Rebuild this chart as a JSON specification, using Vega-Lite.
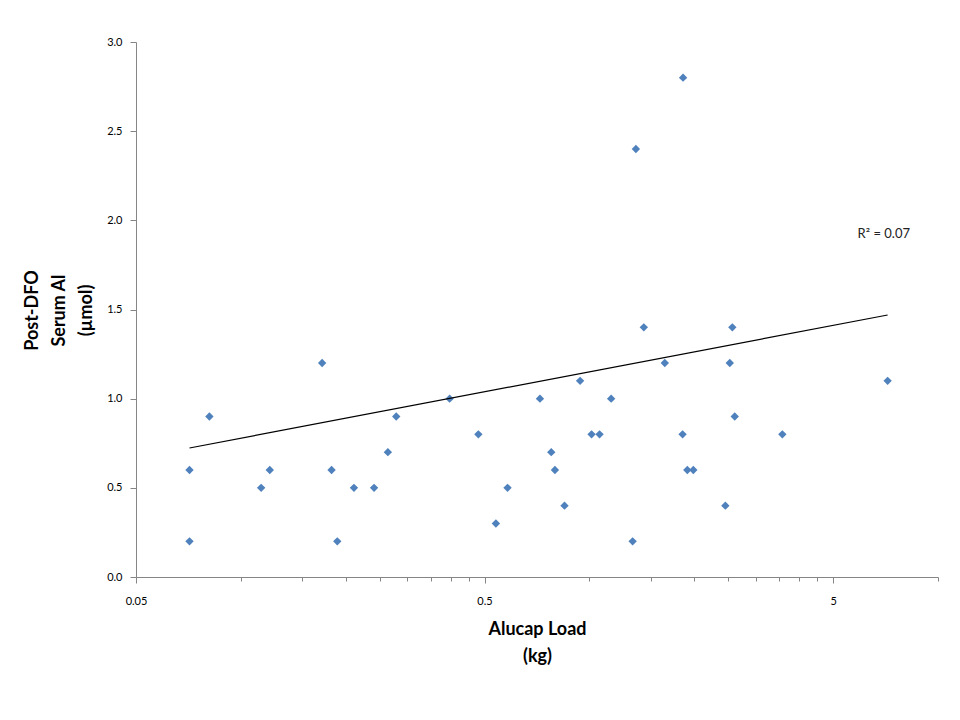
{
  "$schema": "https://vega.github.io/schema/vega-lite/v6.json",
  "width": 802,
  "height": 535,
  "autosize": {"type": "none"},
  "padding": {"left": 136, "top": 42, "right": 22, "bottom": 143},
  "background": "white",
  "config": {
    "view": {"stroke": null},
    "font": "Lato",
    "axis": {"grid": false, "domainColor": "#868686", "tickColor": "#868686", "labelColor": "#000000", "labelFont": "Lato", "labelFontSize": 11, "titleFont": "Lato", "titleFontSize": 18, "titleFontWeight": "bold", "titleColor": "#000000"}
  },
  "datasets": {
    "points": [
      {"load": 0.0712, "al": 0.6},
      {"load": 0.0712, "al": 0.2},
      {"load": 0.0812, "al": 0.9},
      {"load": 0.1143, "al": 0.5},
      {"load": 0.121, "al": 0.6},
      {"load": 0.171, "al": 1.2},
      {"load": 0.182, "al": 0.6},
      {"load": 0.189, "al": 0.2},
      {"load": 0.211, "al": 0.5},
      {"load": 0.241, "al": 0.5},
      {"load": 0.264, "al": 0.7},
      {"load": 0.279, "al": 0.9},
      {"load": 0.397, "al": 1.0},
      {"load": 0.48, "al": 0.8},
      {"load": 0.539, "al": 0.3},
      {"load": 0.582, "al": 0.5},
      {"load": 0.721, "al": 1.0},
      {"load": 0.777, "al": 0.7},
      {"load": 0.796, "al": 0.6},
      {"load": 0.848, "al": 0.4},
      {"load": 0.94, "al": 1.1},
      {"load": 1.014, "al": 0.8},
      {"load": 1.069, "al": 0.8},
      {"load": 1.154, "al": 1.0},
      {"load": 1.33, "al": 0.2},
      {"load": 1.359, "al": 2.4},
      {"load": 1.432, "al": 1.4},
      {"load": 1.645, "al": 1.2},
      {"load": 1.856, "al": 2.8},
      {"load": 1.85, "al": 0.8},
      {"load": 1.909, "al": 0.6},
      {"load": 1.986, "al": 0.6},
      {"load": 2.454, "al": 0.4},
      {"load": 2.527, "al": 1.2},
      {"load": 2.57, "al": 1.4},
      {"load": 2.611, "al": 0.9},
      {"load": 3.576, "al": 0.8},
      {"load": 7.17, "al": 1.1}
    ],
    "trend": [
      {"load": 0.0712, "al": 0.7235},
      {"load": 7.17, "al": 1.469}
    ],
    "note": [
      {"load": 6.99, "al": 1.925, "label": "R² = 0.07"}
    ]
  },
  "layer": [
    {
      "data": {"name": "points"},
      "mark": {"type": "point", "shape": "diamond", "filled": true, "size": 70, "color": "#4F81BD", "opacity": 1},
      "encoding": {
        "x": {
          "field": "load", "type": "quantitative",
          "scale": {"type": "log", "domain": [0.05, 10], "nice": false},
          "axis": {
            "title": ["Alucap Load", "(kg)"],
            "titleLineHeight": 27,
            "titleBaseline": "top",
            "titleY": 43,
            "values": [0.05, 0.1, 0.15, 0.2, 0.25, 0.3, 0.35, 0.4, 0.45, 0.5, 1, 1.5, 2, 2.5, 3, 3.5, 4, 4.5, 5, 10],
            "format": "~g",
            "labelExpr": "indexof([0.05, 0.5, 5], datum.value) >= 0 ? datum.label : ''",
            "labelOverlap": false,
            "labelBound": false,
            "labelFlush": false,
            "labelPadding": 12,
            "tickSize": {"condition": {"test": "indexof([0.05, 0.5, 5], datum.value) >= 0", "value": 6}, "value": 4}
          }
        },
        "y": {
          "field": "al", "type": "quantitative",
          "scale": {"domain": [0, 3], "nice": false, "zero": true},
          "axis": {
            "title": ["Post-DFO", "Serum Al", "(µmol)"],
            "titleLineHeight": 27,
            "titleBaseline": "top",
            "titleX": -113,
            "titleY": 268,
            "titleAngle": -90,
            "titleAlign": "center",
            "values": [0, 0.5, 1, 1.5, 2, 2.5, 3],
            "format": ".1f",
            "labelPadding": 8,
            "tickSize": 6
          }
        }
      }
    },
    {
      "data": {"name": "trend"},
      "mark": {"type": "line", "color": "#000000", "strokeWidth": 1.2},
      "encoding": {
        "x": {"field": "load", "type": "quantitative"},
        "y": {"field": "al", "type": "quantitative"}
      }
    },
    {
      "data": {"name": "note"},
      "mark": {"type": "text", "font": "Lato", "fontSize": 13, "color": "#222222", "align": "center", "baseline": "middle"},
      "encoding": {
        "x": {"field": "load", "type": "quantitative"},
        "y": {"field": "al", "type": "quantitative"},
        "text": {"field": "label"}
      }
    }
  ]
}
